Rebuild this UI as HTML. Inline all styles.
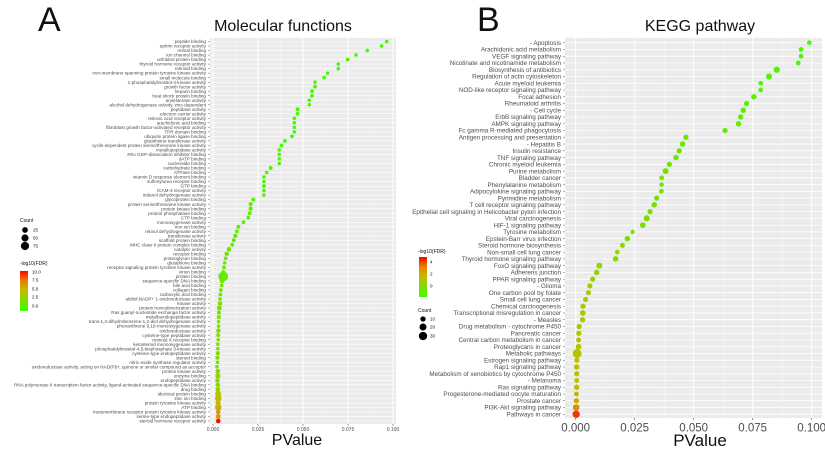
<!DOCTYPE html>
<html><head><meta charset="utf-8"><style>
body{margin:0;background:#fff;}
svg{display:block;font-family:"Liberation Sans",sans-serif;}
</style></head><body>
<svg id="chart" width="825" height="450" viewBox="0 0 825 450"></svg>
<script>
// ---- Panel A data ----
const mfTerms=["peptide binding","ephrin receptor activity","retinal binding","ion channel binding","unfolded protein binding","thyroid hormone receptor activity","retinoid binding","non-membrane spanning protein tyrosine kinase activity","small molecule binding","1-phosphatidylinositol-3-kinase activity","growth factor activity","heparin binding","heat shock protein binding","arylesterase activity","alcohol dehydrogenase activity, zinc-dependent","peptidase activity","electron carrier activity","retinoic acid receptor activity","arachidonic acid binding","fibroblast growth factor-activated receptor activity","TPR domain binding","ubiquitin protein ligase binding","glutathione transferase activity","cyclin-dependent protein serine/threonine kinase activity","metallopeptidase activity","Rho GDP-dissociation inhibitor binding","dATP binding","nucleoside binding","carbohydrate binding","ATPase binding","vitamin D response element binding","sulfonylurea receptor binding","GTP binding","ICAM-3 receptor activity","indanol dehydrogenase activity","glycoprotein binding","protein serine/threonine kinase activity","protein kinase binding","protein phosphatase binding","CTP binding","monooxygenase activity","iron ion binding","retinol dehydrogenase activity","transferase activity","scaffold protein binding","MHC class II protein complex binding","catalytic activity","receptor binding","proteoglycan binding","glutathione binding","receptor signaling protein tyrosine kinase activity","virion binding","protein binding","sequence-specific DNA binding","bile acid binding","collagen binding","carboxylic acid binding","alditol:NADP+ 1-oxidoreductase activity","kinase activity","protein homodimerization activity","Ras guanyl-nucleotide exchange factor activity","metalloendopeptidase activity","trans-1,2-dihydrobenzene-1,2-diol dehydrogenase activity","phenanthrene 9,10-monooxygenase activity","oxidoreductase activity","cysteine-type peptidase activity","retinoid X receptor binding","ketosteroid monooxygenase activity","phosphatidylinositol-4,5-bisphosphate 3-kinase activity","cysteine-type endopeptidase activity","steroid binding","nitric-oxide synthase regulator activity","oxidoreductase activity, acting on NAD(P)H, quinone or similar compound as acceptor","protein kinase activity","enzyme binding","endopeptidase activity","RNA polymerase II transcription factor activity, ligand-activated sequence-specific DNA binding","drug binding","identical protein binding","zinc ion binding","protein tyrosine kinase activity","ATP binding","transmembrane receptor protein tyrosine kinase activity","serine-type endopeptidase activity","steroid hormone receptor activity"];
const mfP=[0.0965,0.0937,0.0857,0.0794,0.0748,0.0696,0.0696,0.0637,0.0617,0.0567,0.0567,0.055,0.055,0.0535,0.0535,0.047,0.047,0.0452,0.0452,0.0452,0.0452,0.0439,0.04,0.0381,0.0368,0.0368,0.0368,0.0368,0.032,0.0298,0.0283,0.0283,0.0283,0.0283,0.0283,0.0224,0.0209,0.0209,0.0204,0.0196,0.0169,0.0141,0.0133,0.0124,0.0115,0.0107,0.0089,0.0076,0.007,0.0065,0.0061,0.0057,0.0057,0.005,0.0048,0.0044,0.0041,0.0039,0.0039,0.0035,0.0033,0.0032,0.0031,0.0031,0.003,0.0029,0.0029,0.0027,0.0027,0.0027,0.0025,0.0025,0.0022,0.0027,0.0027,0.0025,0.0027,0.0027,0.0029,0.0029,0.0029,0.0029,0.0029,0.0029,0.0029];
const mfCount=[3,3,3,3,4,3,3,3,4,3,4,4,4,3,3,5,4,3,3,3,3,4,4,4,3,3,3,3,5,4,3,3,4,3,3,5,6,6,5,3,4,5,4,6,5,4,8,7,4,3,4,4,75,9,3,4,4,3,8,10,5,5,3,3,8,5,3,3,3,6,5,3,3,10,12,8,8,10,20,25,12,25,8,10,8];
const mfFDR=[0.2,0.2,0.2,0.2,0.3,0.2,0.2,0.3,0.3,0.3,0.4,0.4,0.4,0.3,0.3,0.5,0.5,0.4,0.4,0.4,0.4,0.5,0.6,0.6,0.5,0.5,0.5,0.5,0.8,0.8,0.7,0.7,0.8,0.7,0.7,1,1.2,1.2,1.1,0.9,1.2,1.4,1.3,1.6,1.5,1.4,1.9,2,1.6,1.5,1.8,1.8,1.5,2.2,2,2.1,2.2,2.1,2.4,2.6,2.4,2.4,2.2,2.2,2.6,2.5,2.3,2.3,2.3,2.6,2.6,2.4,2.4,3,3.2,3.1,3.4,3.5,4.8,5,5.2,5.6,6.5,6.8,9.8];
const mfTicks=[0,0.025,0.05,0.075,0.1];
const mfTickLabels=["0.000","0.025","0.050","0.075","0.100"];
// ---- Panel B data ----
const kgTerms=["-   Apoptosis","Arachidonic acid metabolism","VEGF signaling pathway","Nicotinate and nicotinamide metabolism","Biosynthesis of antibiotics","Regulation of actin cytoskeleton","Acute myeloid leukemia","NOD-like receptor signaling pathway","Focal adhesion","Rheumatoid arthritis","-   Cell cycle","ErbB signaling pathway","AMPK signaling pathway","Fc gamma R-mediated phagocytosis","Antigen processing and presentation","-   Hepatitis B","Insulin resistance","TNF signaling pathway","Chronic myeloid leukemia","Purine metabolism","Bladder cancer","Phenylalanine metabolism","Adipocytokine signaling pathway","Pyrimidine metabolism","T cell receptor signaling pathway","Epithelial cell signaling in Helicobacter pylori infection","Viral carcinogenesis","HIF-1 signaling pathway","Tyrosine metabolism","Epstein-Barr virus infection","Steroid hormone biosynthesis","Non-small cell lung cancer","Thyroid hormone signaling pathway","FoxO signaling pathway","Adherens junction","PPAR signaling pathway","-   Glioma","One carbon pool by folate","Small cell lung cancer","Chemical carcinogenesis","Transcriptional misregulation in cancer","-   Measles","Drug metabolism - cytochrome P450","Pancreatic cancer","Central carbon metabolism in cancer","Proteoglycans in cancer","Metabolic pathways","Estrogen signaling pathway","Rap1 signaling pathway","Metabolism of xenobiotics by cytochrome P450","-   Melanoma","Ras signaling pathway","Progesterone-mediated oocyte maturation","Prostate cancer","PI3K-Akt signaling pathway","Pathways in cancer"];
const kgP=[0.099,0.0955,0.0955,0.0943,0.0852,0.0819,0.0784,0.0784,0.0755,0.0724,0.071,0.0699,0.069,0.0633,0.0467,0.0453,0.0439,0.0425,0.0397,0.0381,0.0364,0.0364,0.0363,0.0343,0.0333,0.0315,0.0301,0.0284,0.0241,0.0219,0.0198,0.0176,0.0169,0.01,0.0089,0.0072,0.006,0.0054,0.0042,0.0031,0.003,0.0029,0.0015,0.0013,0.0012,0.0012,0.0006,0.0005,0.0004,0.0004,0.0004,0.0004,0.0003,0.0003,0.0002,0.0002];
const kgCount=[5,5,5,5,12,11,5,5,8,7,8,7,8,7,7,8,7,8,7,10,5,4,5,7,8,7,11,9,4,8,6,5,8,10,8,7,7,6,7,7,9,7,7,7,6,9,30,7,8,7,6,8,6,7,14,18];
const kgFDR=[0.2,0.2,0.2,0.2,0.5,0.5,0.4,0.4,0.5,0.5,0.6,0.6,0.6,0.6,0.8,0.9,0.9,0.9,1,1,1,1,1,1.1,1.1,1.2,1.2,1.2,1.3,1.3,1.4,1.5,1.5,1.7,1.8,1.9,1.9,1.9,2,2,2.1,2.1,2.2,2.2,2.2,2.3,2.4,2.4,2.4,2.4,2.5,2.5,2.6,3,3.5,4.5];
const kgTicks=[0,0.025,0.05,0.075,0.1];
const kgTickLabels=["0.000","0.025","0.050","0.075","0.100"];

const NS="http://www.w3.org/2000/svg";
const svg=document.getElementById('chart');
function mk(tag,attrs,parent){const e=document.createElementNS(NS,tag);for(const k in attrs)e.setAttribute(k,attrs[k]);(parent||svg).appendChild(e);return e;}
function lerp(a,b,t){return Math.round(a+(b-a)*t);}
function col(v,max){let t=Math.max(0,Math.min(1,v/max));
  const s=[[0,[60,255,0]],[0.5,[190,190,0]],[0.75,[230,130,0]],[1,[255,0,0]]];
  for(let i=0;i<s.length-1;i++){if(t<=s[i+1][0]){const u=(t-s[i][0])/(s[i+1][0]-s[i][0]);const a=s[i][1],b=s[i+1][1];return `rgb(${lerp(a[0],b[0],u)},${lerp(a[1],b[1],u)},${lerp(a[2],b[2],u)})`;}}
  return 'rgb(255,0,0)';}

function panel(o){
  const g=mk('g',{});
  
  
  const bg=mk('rect',{x:o.x0,y:o.y0,width:o.x1-o.x0,height:o.y1-o.y0,fill:'#ebebeb'},g);
  
  
  const xs=p=>o.zx+(p-o.ticks[0])*o.ppu;
  const n=o.terms.length;
  const ys=i=>o.ytop+i*(o.ybot-o.ytop)/(n-1);
  for(let i=0;i<o.ticks.length-1;i++){const m=(o.ticks[i]+o.ticks[i+1])/2;mk('line',{x1:xs(m),x2:xs(m),y1:o.y0,y2:o.y1,stroke:'#f6f6f6','stroke-width':0.5},g);}
  o.terms.forEach((t,i)=>{mk('line',{x1:o.x0,x2:o.x1,y1:ys(i),y2:ys(i),stroke:'#fff','stroke-width':o.gw},g);});
  o.ticks.forEach((t,i)=>{
    mk('line',{x1:xs(t),x2:xs(t),y1:o.y0,y2:o.y1,stroke:'#fff','stroke-width':1},g);
    mk('line',{x1:xs(t),x2:xs(t),y1:o.y1,y2:o.y1+2,stroke:'#333','stroke-width':0.5},g);
    const tl=mk('text',{x:xs(t),y:o.y1+2+o.tf,'font-size':o.tf,'text-anchor':'middle',fill:'#4d4d4d'},g);
    tl.textContent=o.tickLabels[i];
    
    
  });
  o.terms.forEach((t,i)=>{
    const lb=mk('text',{x:o.x0-4,y:ys(i)+o.lf*0.35,'font-size':o.lf,'text-anchor':'end',fill:'#4d4d4d'},g);
    lb.textContent=t;
    
    
    mk('line',{x1:o.x0-2,x2:o.x0,y1:ys(i),y2:ys(i),stroke:'#333','stroke-width':0.4},g);
  });
  o.terms.forEach((t,i)=>{
    const c=mk('circle',{cx:xs(o.p[i]),cy:ys(i),r:o.rs(o.count[i]),fill:col(o.fdr[i],o.fmax)},g);
    
    
  });
}

panel({name:'panel-molecular-functions',terms:mfTerms,p:mfP,count:mfCount,fdr:mfFDR,ticks:mfTicks,tickLabels:mfTickLabels,
  x0:210,x1:396,y0:38,y1:424,zx:213,ppu:1800,ytop:41.5,ybot:421,lf:4.6,tf:5,gw:0.6,fmax:10,
  rs:c=>1.0+0.45*Math.sqrt(c)});
panel({name:'panel-kegg-pathway',terms:kgTerms,p:kgP,count:kgCount,fdr:kgFDR,ticks:kgTicks,tickLabels:kgTickLabels,
  x0:565,x1:822,y0:38,y1:418,zx:575.7,ppu:2360,ytop:42.7,ybot:414.3,lf:6.3,tf:11.5,gw:0.8,fmax:5,
  rs:c=>0.9+0.65*Math.sqrt(c)});

function txt(x,y,s,size,name,anchor,fill){const t=mk('text',{x:x,y:y,'font-size':size,'text-anchor':anchor||'start',fill:fill||'#111'});t.textContent=s;return t;}
txt(38,31,'A',34,'panel-a-letter');
txt(477,31,'B',34,'panel-b-letter');
txt(283,31,'Molecular functions',16,'panel-a-title','middle');
txt(700,31,'KEGG pathway',16,'panel-b-title','middle');
txt(297,445,'PValue',16,'panel-a-x-axis-title','middle');
txt(700,446,'PValue',17,'panel-b-x-axis-title','middle');

txt(20,222,'Count',5,'legend-a-count-title');
[[25,230],[50,238],[75,246]].forEach(([v,y])=>{const c=mk('circle',{cx:25,cy:y,r:1.1+0.35*Math.sqrt(v),fill:'#000'});txt(33,y+1.5,String(v),4.5,'legend-a-count-label');});
txt(20,265,'-log10(FDR)',5,'legend-a-fdr-title');
function bar(x,y,w,h,name){const d=mk('defs',{});const lg=mk('linearGradient',{id:name,x1:0,y1:1,x2:0,y2:0},d);
  [[0,'rgb(60,255,0)'],[0.5,'rgb(190,190,0)'],[0.75,'rgb(230,130,0)'],[1,'rgb(255,0,0)']].forEach(([o,c])=>mk('stop',{offset:o,'stop-color':c},lg));
  const r=mk('rect',{x:x,y:y,width:w,height:h,fill:`url(#${name})`});}
bar(20,271,8,40,'legend-a-colorbar');
[['10.0',272],['7.5',280],['5.0',289],['2.5',297],['0.0',306]].forEach(([s,y])=>txt(32,y+1.5,s,4.5,'legend-a-fdr-label'));
txt(418,253,'-log10(FDR)',5,'legend-b-fdr-title');
bar(419,257,8,40,'legend-b-colorbar');
[['4',262],['2',274],['0',286]].forEach(([s,y])=>txt(430,y+1.5,s,4.5,'legend-b-fdr-label'));
txt(418,312,'Count',5,'legend-b-count-title');
[[10,319],[20,327],[30,336]].forEach(([v,y])=>{const c=mk('circle',{cx:423,cy:y,r:0.6+0.65*Math.sqrt(v),fill:'#000'});txt(430,y+1.5,String(v),4.5,'legend-b-count-label');});
</script>
</body></html>
